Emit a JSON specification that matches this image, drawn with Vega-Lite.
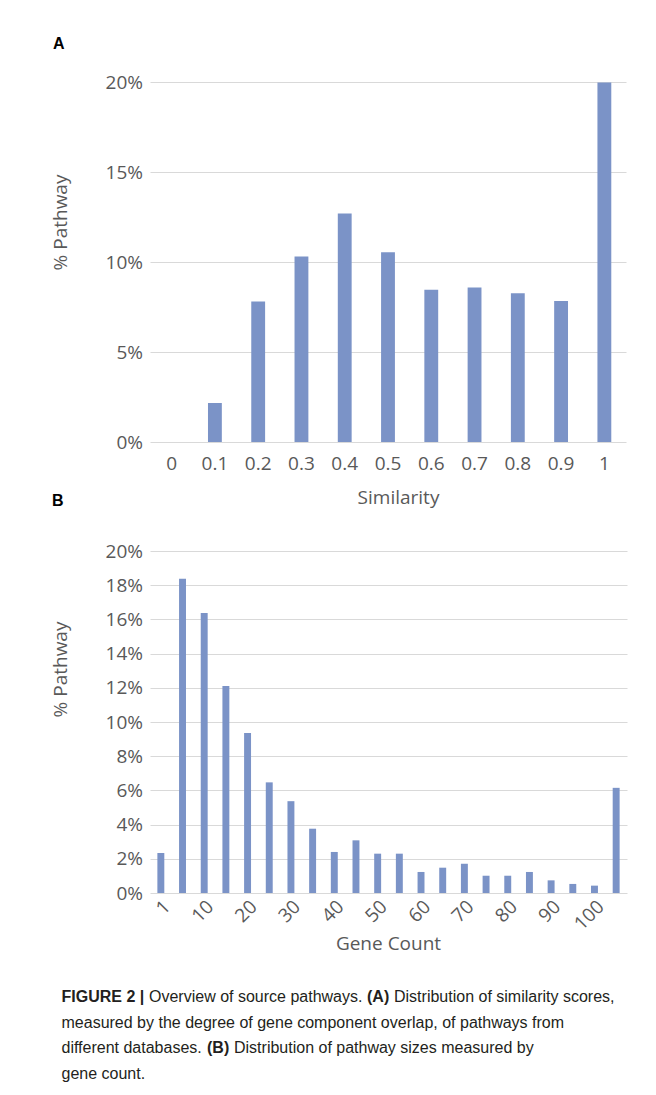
{
  "$schema": "https://vega.github.io/schema/vega-lite/v6.json",
  "padding": {"top": 36, "left": 50, "right": 5, "bottom": 5},
  "background": "white",
  "bounds": "flush",
  "spacing": 109,
  "config": {
    "view": {"stroke": null},
    "axis": {
      "labelFont": "Open Sans",
      "titleFont": "Open Sans",
      "labelColor": "#595959",
      "titleColor": "#595959",
      "titleFontWeight": "normal",
      "labelFontSize": 19,
      "titleFontSize": 19,
      "domain": false,
      "ticks": false,
      "gridColor": "#d9d9d9",
      "gridWidth": 1
    },
    "title": {"font": "Liberation Sans", "fontWeight": "bold", "fontSize": 16, "color": "#000000", "anchor": "start", "frame": "bounds"},
    "bar": {"color": "#7b93c7"},
    "text": {"color": "#231f20"}
  },
  "vconcat": [
    {
      "title": {"text": "A", "offset": 21, "dx": 2},
      "width": 476,
      "height": 360,
      "data": {"values": [
        {"similarity": "0", "pct": 0},
        {"similarity": "0.1", "pct": 0.0217},
        {"similarity": "0.2", "pct": 0.0781},
        {"similarity": "0.3", "pct": 0.103},
        {"similarity": "0.4", "pct": 0.127},
        {"similarity": "0.5", "pct": 0.1054},
        {"similarity": "0.6", "pct": 0.0846},
        {"similarity": "0.7", "pct": 0.0859},
        {"similarity": "0.8", "pct": 0.0826},
        {"similarity": "0.9", "pct": 0.0783},
        {"similarity": "1", "pct": 0.1997}
      ]},
      "mark": {"type": "bar"},
      "encoding": {
        "x": {"field": "similarity", "type": "nominal", "sort": null,
              "scale": {"paddingInner": 0.68, "paddingOuter": 0.34},
              "axis": {"labelAngle": 0, "labelPadding": 12, "title": "Similarity", "titleX": 248, "titleY": 46}},
        "y": {"field": "pct", "type": "quantitative",
              "scale": {"domain": [0, 0.2]},
              "axis": {"format": ".0%", "values": [0, 0.05, 0.1, 0.15, 0.2], "title": "% Pathway", "labelPadding": 7.5, "titleX": -80, "titleY": 140, "grid": true}}
      }
    },
    {
      "title": {"text": "B", "offset": 33, "dx": 1},
      "width": 477,
      "height": 342,
      "data": {"values": [
        {"genes": "1", "pct": 0.0234},
        {"genes": "5", "pct": 0.1838},
        {"genes": "10", "pct": 0.1638},
        {"genes": "15", "pct": 0.1211},
        {"genes": "20", "pct": 0.0935},
        {"genes": "25", "pct": 0.0647},
        {"genes": "30", "pct": 0.0537},
        {"genes": "35", "pct": 0.0376},
        {"genes": "40", "pct": 0.024},
        {"genes": "45", "pct": 0.0308},
        {"genes": "50", "pct": 0.023},
        {"genes": "55", "pct": 0.023},
        {"genes": "60", "pct": 0.0123},
        {"genes": "65", "pct": 0.0148},
        {"genes": "70", "pct": 0.0171},
        {"genes": "75", "pct": 0.0101},
        {"genes": "80", "pct": 0.0101},
        {"genes": "85", "pct": 0.0123},
        {"genes": "90", "pct": 0.0074},
        {"genes": "95", "pct": 0.0053},
        {"genes": "100", "pct": 0.0043},
        {"genes": ">100", "pct": 0.0615}
      ]},
      "mark": {"type": "bar"},
      "encoding": {
        "x": {"field": "genes", "type": "nominal", "sort": null,
              "scale": {"paddingInner": 0.68, "paddingOuter": 0.34},
              "axis": {"labelAngle": -45, "labelPadding": 4,
                       "labelExpr": "indexof(['1','10','20','30','40','50','60','70','80','90','100'], datum.value) >= 0 ? datum.value : ''",
                       "title": "Gene Count", "titleX": 238, "titleY": 41}},
        "y": {"field": "pct", "type": "quantitative",
              "scale": {"domain": [0, 0.2]},
              "axis": {"format": ".0%", "values": [0, 0.02, 0.04, 0.06, 0.08, 0.1, 0.12, 0.14, 0.16, 0.18, 0.2], "title": "% Pathway", "labelPadding": 7.5, "titleX": -80, "titleY": 118, "grid": true}}
      }
    },
    {
      "width": 476,
      "height": 76.5,
      "data": {"values": [
        {"line": 1, "seg": "b1", "text": "FIGURE 2 |"},
        {"line": 1, "seg": "r1", "text": "Overview of source pathways."},
        {"line": 1, "seg": "b2", "text": "(A)"},
        {"line": 1, "seg": "r2", "text": "Distribution of similarity scores,"},
        {"line": 2, "seg": "r0", "text": "measured by the degree of gene component overlap, of pathways from"},
        {"line": 3, "seg": "r0", "text": "different databases."},
        {"line": 3, "seg": "b3", "text": "(B)"},
        {"line": 3, "seg": "r3", "text": "Distribution of pathway sizes measured by"},
        {"line": 4, "seg": "r0", "text": "gene count."}
      ]},
      "encoding": {
        "x": {"datum": 0, "type": "quantitative", "scale": {"domain": [0, 1]}, "axis": null},
        "y": {"field": "line", "type": "ordinal", "scale": {"type": "point", "padding": 0}, "axis": null},
        "text": {"field": "text"}
      },
      "layer": [
        {"transform": [{"filter": "datum.seg === 'r0'"}],
         "mark": {"type": "text", "align": "left", "baseline": "alphabetic", "font": "Liberation Sans", "fontSize": 16, "dx": -88.5}},
        {"transform": [{"filter": "datum.seg === 'b1'"}],
         "mark": {"type": "text", "align": "left", "baseline": "alphabetic", "font": "Liberation Sans", "fontWeight": "bold", "fontSize": 16, "dx": -88.5}},
        {"transform": [{"filter": "datum.seg === 'r1'"}],
         "mark": {"type": "text", "align": "left", "baseline": "alphabetic", "font": "Liberation Sans", "fontSize": 16, "dx": -1}},
        {"transform": [{"filter": "datum.seg === 'b2'"}],
         "mark": {"type": "text", "align": "left", "baseline": "alphabetic", "font": "Liberation Sans", "fontWeight": "bold", "fontSize": 16, "dx": 217}},
        {"transform": [{"filter": "datum.seg === 'r2'"}],
         "mark": {"type": "text", "align": "left", "baseline": "alphabetic", "font": "Liberation Sans", "fontSize": 16, "dx": 244}},
        {"transform": [{"filter": "datum.seg === 'b3'"}],
         "mark": {"type": "text", "align": "left", "baseline": "alphabetic", "font": "Liberation Sans", "fontWeight": "bold", "fontSize": 16, "dx": 57}},
        {"transform": [{"filter": "datum.seg === 'r3'"}],
         "mark": {"type": "text", "align": "left", "baseline": "alphabetic", "font": "Liberation Sans", "fontSize": 16, "dx": 84}}
      ]
    }
  ]
}
